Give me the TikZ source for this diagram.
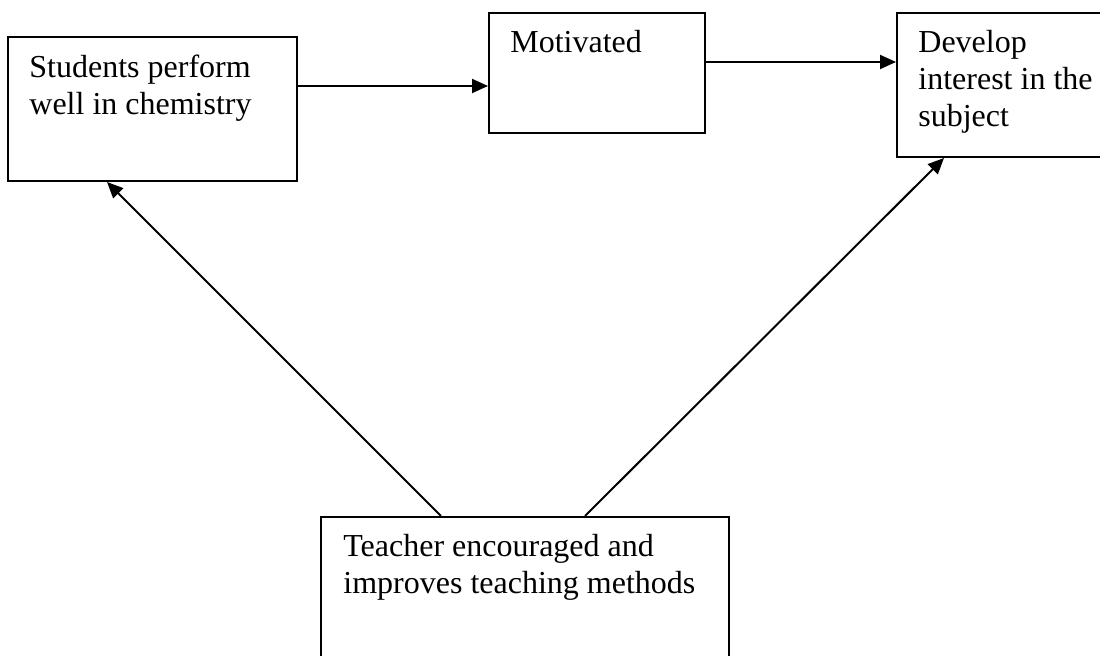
\documentclass[tikz,border=0pt]{standalone}
\usepackage{fontspec}
\setmainfont{Liberation Serif}
\usetikzlibrary{fit,arrows.meta}
\begin{document}
\begin{tikzpicture}[x=0.5pt,y=-0.5pt,
  box/.style={draw,line width=1pt,inner sep=0pt},
  txt/.style={align=left,inner sep=0pt,anchor=base west,font=\fontsize{16}{18.5}\selectfont},
  arr/.style={line width=1pt,-{Triangle[length=8pt,width=7pt]}}]
\useasboundingbox (0,0) rectangle (1100,656);
\clip (0,0) rectangle (1100,656);
\node[box,fit={(8,37) (297,181)}] (b1) {};
\node[box,fit={(489,13) (705,133)}] (b2) {};
\node[box,fit={(897,13) (1120,157)}] (b3) {};
\node[box,fit={(321,517) (729,680)}] (b4) {};
\node[txt] (t1) at (29,115) {Students perform\\well in chemistry};
\node[txt] (t2) at (510,53) {Motivated};
\node[txt] (t3) at (918,127) {Develop\\interest in the\\subject};
\node[txt] (t4) at (343,594) {Teacher encouraged and\\improves teaching methods};
\coordinate (h1) at (0,86);
\coordinate (h2) at (0,62);
\coordinate (s1) at (441,0);
\coordinate (e1) at (107,0);
\coordinate (s2) at (585,0);
\coordinate (e2) at (944,0);
\draw[arr] (b1.east |- h1) -- (b2.west |- h1);
\draw[arr] (b2.east |- h2) -- (b3.west |- h2);
\draw[arr] (b4.north -| s1) -- (b1.south -| e1);
\draw[arr] (b4.north -| s2) -- (b3.south -| e2);
\end{tikzpicture}
\end{document}
